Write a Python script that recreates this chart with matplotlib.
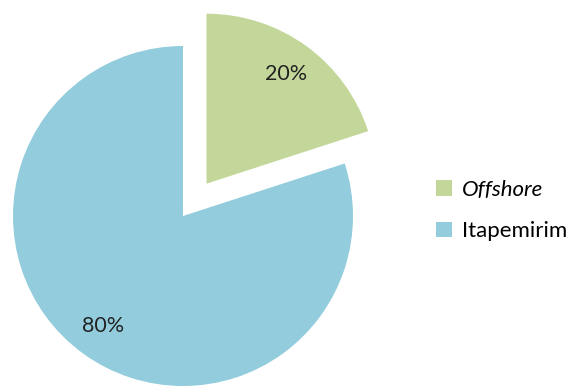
import matplotlib
matplotlib.use("Agg")
import matplotlib.pyplot as plt
from matplotlib.patches import Patch

# Datos del gráfico
categorias = ["Offshore", "Itapemirim"]
valores = [20, 80]
colores = ["#C4D79B", "#93CDDD"]

plt.rcParams['font.family'] = ['Lato', 'DejaVu Sans']

fig = plt.figure(figsize=(5.68, 3.88), dpi=100)
ax = fig.add_axes([0, 0, 1, 1])

wedges, textos, pct = ax.pie(valores, colors=colores, startangle=90, counterclock=False,
                             explode=[0.235, 0], autopct='%1.0f%%', pctdistance=0.8,
                             radius=1, textprops={'fontsize': 15.5, 'color': '#222222'},
                             wedgeprops={'linewidth': 0})

# radio del pastel = 170 px, centro en (182, 215) px desde arriba
r = 170.0
ax.set_xlim(-183 / r, (568 - 183) / r)
ax.set_ylim(-(388 - 216) / r, 216 / r)
ax.set_aspect('equal', adjustable='datalim')
ax.axis('off')

manejadores = [Patch(facecolor=c, edgecolor='none') for c in colores]
leg = ax.legend(manejadores, categorias, loc='center left', bbox_to_anchor=(436 / 568, 1 - 210.5 / 388),
                frameon=False, fontsize=16, handlelength=0.7, handleheight=0.7,
                handletextpad=0.45, labelspacing=0.95, borderaxespad=0, borderpad=0)
leg.get_texts()[0].set_fontstyle('italic')

fig.savefig("out.png", dpi=100)
